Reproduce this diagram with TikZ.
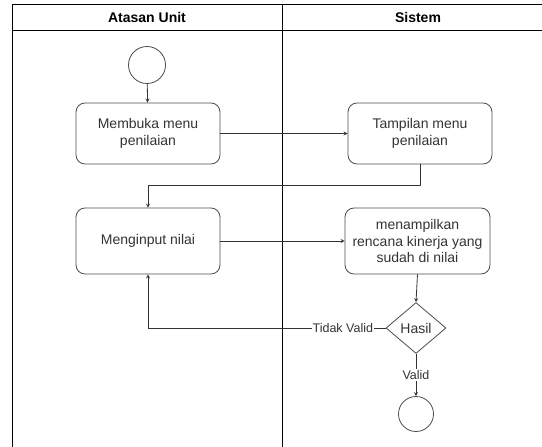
\documentclass[tikz,border=0pt]{standalone}
\usepackage{fontspec}
\setmainfont{Liberation Sans}
\usetikzlibrary{shapes.geometric}
\tikzset{
  lane/.style={line width=1pt, black},
  aksi/.style={draw=black!70, line width=0.8pt, rounded corners=9pt, align=center,
    minimum width=144pt, text=black!80, font=\fontsize{14}{16.5}\selectfont},
  keputusan/.style={diamond, draw=black!70, line width=0.8pt, inner sep=0pt,
    minimum width=60pt, minimum height=51pt, text=black!80, font=\fontsize{14}{16}\selectfont},
  titik/.style={circle, draw=black!70, line width=0.8pt, inner sep=0pt},
  alur/.style={->, draw=black!80, line width=0.8pt},
  ket/.style={fill=white, inner sep=1pt, text=black!80, font=\fontsize{12.5}{14}\selectfont}
}
\begin{document}
\begin{tikzpicture}[x=1pt, y=-1pt, line join=round, >=stealth]
  \useasboundingbox (0,0) rectangle (542,447);
  % --- Kolom (swimlane) ---
  \draw[lane] (12.5,460) -- (12.5,4) -- (556,4) -- (556,460);
  \draw[lane] (12.5,30) -- (556,30);
  \draw[lane] (282,4) -- (282,460);
  \node[font=\fontsize{14}{16}\selectfont\bfseries] (kolomA) at (147,17) {Atasan Unit};
  \node[font=\fontsize{14}{16}\selectfont\bfseries] (kolomB) at (418,17) {Sistem};
  % --- Aktivitas ---
  \node[titik, minimum size=37pt] (mulai) at (147,65) {};
  \node[aksi, minimum height=61pt] (buka) at (148,133.5) {Membuka menu\\penilaian};
  \node[aksi, minimum height=61pt] (tampil) at (420,133.5) {Tampilan menu\\penilaian};
  \node[aksi, minimum height=66pt] (input) at (148,241) {Menginput nilai};
  \node[aksi, minimum height=66pt, minimum width=145pt] (rencana) at (417.5,241)
    {menampilkan\\rencana kinerja yang\\sudah di nilai};
  \node[keputusan] (hasil) at (416,328) {Hasil};
  \node[titik, minimum size=35pt] (selesai) at (416,414) {};
  % --- Alur ---
  \draw[alur] (mulai) -- (buka);
  \draw[alur] (buka) -- (tampil);
  \draw[alur] (tampil.south) -- ++(0,21) -| (input.north);
  \draw[alur] (input) -- (rencana);
  \draw[alur] (rencana.south) -- (hasil.north);
  \draw[alur] (hasil.west) -| node[ket, pos=0.09] {Tidak Valid} (input.south);
  \draw[alur] (hasil.south) -- node[ket] {Valid} (selesai);
\end{tikzpicture}
\end{document}
